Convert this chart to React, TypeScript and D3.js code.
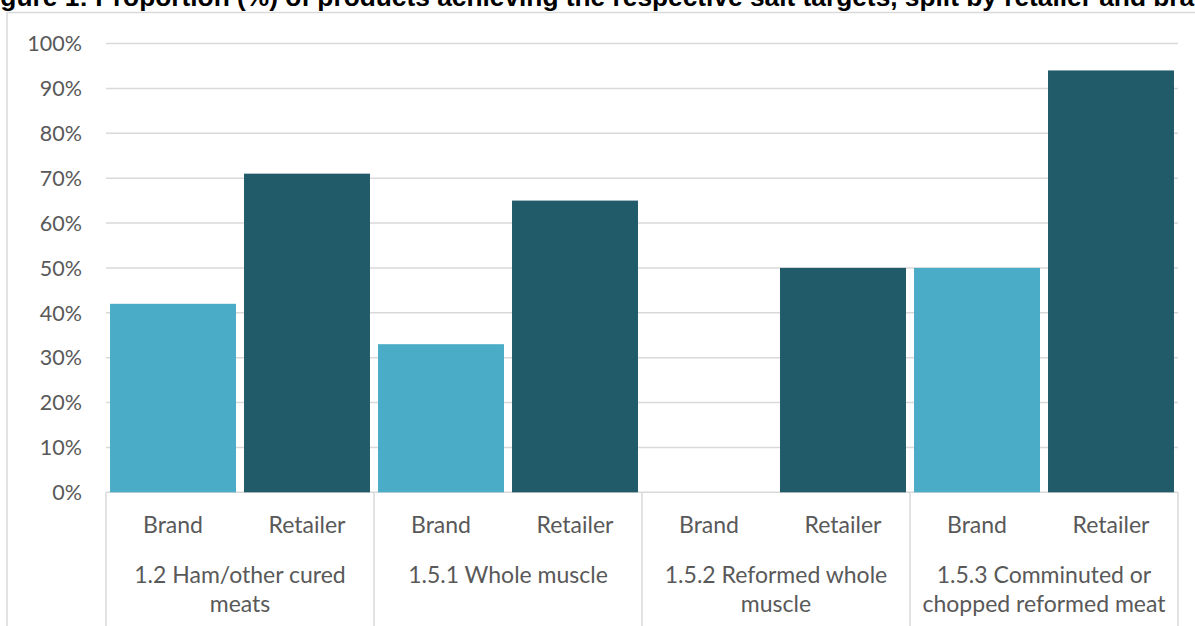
import React from "react";
import * as d3 from "d3";

// Salt target achievement by product category, brand vs retailer
const groups = [
  "1.2 Ham/other cured meats",
  "1.5.1 Whole muscle",
  "1.5.2 Reformed whole muscle",
  "1.5.3 Comminuted or chopped reformed meat",
];
const groupLabelLines = [
  ["1.2 Ham/other cured", "meats"],
  ["1.5.1 Whole muscle"],
  ["1.5.2 Reformed whole", "muscle"],
  ["1.5.3 Comminuted or", "chopped reformed meat"],
];
const seriesNames = ["Brand", "Retailer"];
const brandValues = [0.42, 0.33, 0, 0.5];
const retailerValues = [0.71, 0.65, 0.5, 0.94];
const yTicks = [0, 0.1, 0.2, 0.3, 0.4, 0.5, 0.6, 0.7, 0.8, 0.9, 1.0];
const title =
  "Figure 1: Proportion (%) of products achieving the respective salt targets, split by retailer and brand";

const W = 1195;
const H = 626;
const plotLeft = 106;
const plotRight = 1178;
const plotTop = 43.5;
const plotBottom = 492.3;

const colors: Record<string, string> = {
  Brand: "#4AACC6",
  Retailer: "#215A69",
};

const gridColor = "#D9D9D9";
const textColor = "#595959";
const labelFont = "Lato, 'Open Sans', sans-serif";

export default function App() {
  const x0 = d3.scaleBand<string>().domain(groups).range([plotLeft, plotRight]).paddingInner(0).paddingOuter(0);
  const x1 = d3
    .scaleBand<string>()
    .domain(seriesNames)
    .range([0, x0.bandwidth()])
    .paddingInner(0.06)
    .paddingOuter(0.03);
  const y = d3.scaleLinear().domain([0, 1]).range([plotBottom, plotTop]);
  const fmt = d3.format(".0%");

  const rows = groups.map((g, i) => ({
    group: g,
    values: [
      { key: "Brand", value: brandValues[i] },
      { key: "Retailer", value: retailerValues[i] },
    ],
  }));

  const boundaries = [...groups.map((g) => x0(g) as number), plotRight];

  return (
    <div style={{ position: "absolute", left: 0, top: 0 }}>
      <svg width={W} height={H} style={{ display: "block", background: "#fff" }}>
        {/* chart frame */}
        <path d={`M7,${H} V12.5 H${W}`} fill="none" stroke={gridColor} strokeWidth={1.5} />
        {/* title */}
        <text
          x={-23}
          y={6}
          fontFamily="'Liberation Sans', Arial, sans-serif"
          fontWeight="bold"
          fontSize={26.3}
          fill="#000"
        >
          {title}
        </text>

        {/* gridlines */}
        {yTicks.map((t) => (
          <line
            key={t}
            x1={plotLeft}
            x2={plotRight}
            y1={y(t)}
            y2={y(t)}
            stroke={gridColor}
            strokeWidth={1.5}
          />
        ))}

        {/* y tick labels */}
        {yTicks.map((t) => (
          <text
            key={"l" + t}
            x={82}
            y={y(t)}
            dy="0.36em"
            textAnchor="end"
            fontFamily={labelFont}
            fontSize={21.5}
            fill={textColor}
          >
            {fmt(t)}
          </text>
        ))}

        {/* bars */}
        {rows.map((r) => (
          <g key={r.group} transform={`translate(${x0(r.group)},0)`}>
            {r.values.map((v) => (
              <rect
                key={v.key}
                x={x1(v.key)}
                y={y(v.value)}
                width={x1.bandwidth()}
                height={y(0) - y(v.value)}
                fill={colors[v.key]}
              />
            ))}
          </g>
        ))}

        {/* category axis separators */}
        {boundaries.map((b, i) => (
          <line key={"s" + i} x1={b} x2={b} y1={plotBottom} y2={H} stroke={gridColor} strokeWidth={1.5} />
        ))}

        {/* series labels */}
        {groups.map((g) =>
          seriesNames.map((s) => (
            <text
              key={g + s}
              x={(x0(g) as number) + (x1(s) as number) + x1.bandwidth() / 2}
              y={533}
              textAnchor="middle"
              fontFamily={labelFont}
              fontSize={23}
              fill={textColor}
            >
              {s}
            </text>
          ))
        )}

        {/* group labels */}
        {groups.map((g, i) => (
          <text
            key={"g" + g}
            x={(x0(g) as number) + x0.bandwidth() / 2}
            y={583}
            textAnchor="middle"
            fontFamily={labelFont}
            fontSize={23}
            fill={textColor}
          >
            {groupLabelLines[i].map((line, j) => (
              <tspan key={j} x={(x0(g) as number) + x0.bandwidth() / 2} dy={j === 0 ? 0 : 28.5}>
                {line}
              </tspan>
            ))}
          </text>
        ))}
      </svg>
    </div>
  );
}
